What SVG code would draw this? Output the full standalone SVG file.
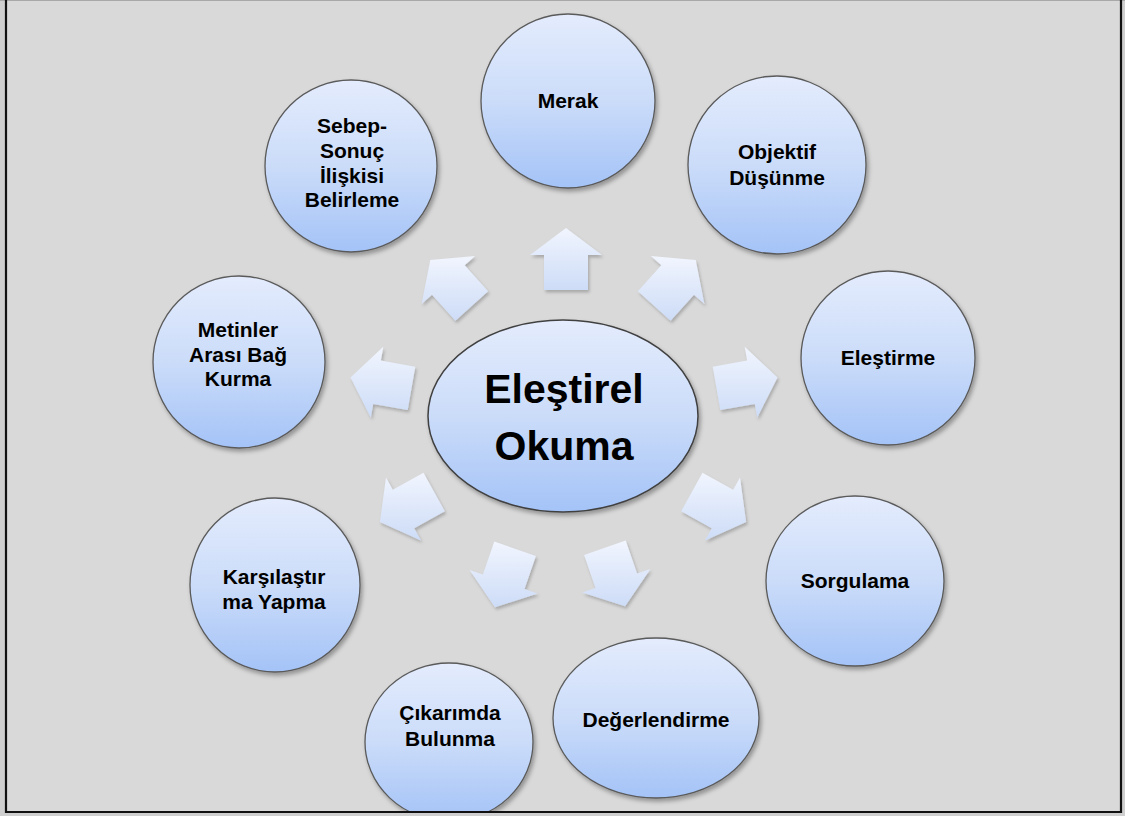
<svg xmlns="http://www.w3.org/2000/svg" width="1125" height="816" viewBox="0 0 1125 816">
  <defs>
    <linearGradient id="nodeFill" x1="0" y1="0" x2="0" y2="1">
      <stop offset="0" stop-color="#e4ecfd"/>
      <stop offset="0.5" stop-color="#cbdcf9"/>
      <stop offset="1" stop-color="#a4c3f7"/>
    </linearGradient>
    <linearGradient id="arrowFill" x1="0" y1="0" x2="0" y2="1">
      <stop offset="0" stop-color="#f1f5fe"/>
      <stop offset="1" stop-color="#cddcf7"/>
    </linearGradient>
    <filter id="shadow" x="-20%" y="-20%" width="140%" height="140%">
      <feDropShadow dx="2" dy="3" stdDeviation="2" flood-color="#000" flood-opacity="0.32"/>
    </filter>
    <filter id="softShadow" x="-20%" y="-20%" width="140%" height="140%">
      <feDropShadow dx="1.5" dy="2.5" stdDeviation="1.8" flood-color="#000" flood-opacity="0.22"/>
    </filter>
    <clipPath id="frameClip">
      <rect x="6" y="0" width="1115" height="812"/>
    </clipPath>
  </defs>
  <style>
    .node { fill: url(#nodeFill); stroke: #5a5a5a; stroke-width: 1.3; filter: url(#shadow); }
    .hub { fill: url(#nodeFill); stroke: #404040; stroke-width: 1.5; filter: url(#shadow); }
    .arrow { fill: url(#arrowFill); stroke: none; filter: url(#softShadow); }
    .lbl { font-family: "Liberation Sans", Arial, sans-serif; font-weight: bold; font-size: 21px; fill: #000; text-anchor: middle; }
    .hubLbl { font-family: "Liberation Sans", Arial, sans-serif; font-weight: bold; font-size: 41px; fill: #000; text-anchor: middle; }
  </style>

  <!-- page background and frame -->
  <rect x="0" y="0" width="1125" height="816" fill="#cfcfcf"/>
  <rect x="6" y="0" width="1115" height="812" fill="#d9d9d9"/>
  <line x1="0" y1="0.5" x2="1125" y2="0.5" stroke="#a8a8a8" stroke-width="1"/>

  <g clip-path="url(#frameClip)">
    <!-- block arrows radiating from the hub -->
    <g id="connectors">
      <polygon class="arrow" points="544,290 544,255 530,255 566,228 602,255 588,255 588,290"/>
      <polygon class="arrow" points="455.4,320.8 432,294.7 421.6,304.1 430.3,260 475.1,256 464.7,265.3 488.1,291.3"/>
      <polygon class="arrow" points="637.9,291.3 661.3,265.3 650.9,256 695.7,260 704.4,304.1 694,294.7 670.6,320.8"/>
      <polygon class="arrow" points="712.7,366.7 747.1,360.6 744.7,346.8 777.5,377.6 757.2,417.8 754.8,404 720.3,410.1"/>
      <polygon class="arrow" points="415.3,366.7 380.9,360.6 383.3,346.8 350.5,377.6 370.8,417.8 373.2,404 407.7,410.1"/>
      <polygon class="arrow" points="444.8,511.2 414.2,528.2 421,540.4 379.9,522 386,477.4 392.8,489.7 423.5,472.7"/>
      <polygon class="arrow" points="681.2,511.2 711.8,528.2 705,540.4 746.1,522 740,477.4 733.2,489.7 702.5,472.7"/>
      <polygon class="arrow" points="535.9,555.9 524.5,589 537.8,593.5 494.9,607.3 469.6,570 482.9,574.6 494.3,541.5"/>
      <polygon class="arrow" points="625.7,540.5 637.1,573.6 650.4,569 625.1,606.3 582.2,592.5 595.5,588 584.1,554.9"/>
    </g>

    <g id="hub">
      <ellipse class="hub" cx="563" cy="416" rx="135" ry="96"/>
      <text class="hubLbl" x="564" y="403">Eleştirel</text>
      <text class="hubLbl" x="564" y="460">Okuma</text>
    </g>

    <g id="merak">
      <circle class="node" cx="568" cy="101" r="87"/>
      <text class="lbl" x="568" y="108">Merak</text>
    </g>

    <g id="objektif">
      <circle class="node" cx="777" cy="165" r="89"/>
      <text class="lbl" x="777" y="159">Objektif</text>
      <text class="lbl" x="777" y="185">Düşünme</text>
    </g>

    <g id="elestirme">
      <circle class="node" cx="888" cy="358" r="87"/>
      <text class="lbl" x="888" y="365">Eleştirme</text>
    </g>

    <g id="sorgulama">
      <ellipse class="node" cx="855" cy="581" rx="89" ry="85"/>
      <text class="lbl" x="855" y="588">Sorgulama</text>
    </g>

    <g id="degerlendirme">
      <ellipse class="node" cx="656" cy="718" rx="103" ry="80"/>
      <text class="lbl" x="656" y="727">Değerlendirme</text>
    </g>

    <g id="cikarimda">
      <ellipse class="node" cx="449" cy="742" rx="84" ry="79"/>
      <text class="lbl" x="450" y="720">Çıkarımda</text>
      <text class="lbl" x="450" y="746">Bulunma</text>
    </g>

    <g id="karsilastirma">
      <ellipse class="node" cx="275" cy="585" rx="85" ry="87"/>
      <text class="lbl" x="274" y="584">Karşılaştır</text>
      <text class="lbl" x="274" y="609">ma Yapma</text>
    </g>

    <g id="metinler">
      <circle class="node" cx="239" cy="362" r="86"/>
      <text class="lbl" x="238" y="337">Metinler</text>
      <text class="lbl" x="238" y="362">Arası Bağ</text>
      <text class="lbl" x="238" y="386">Kurma</text>
    </g>

    <g id="sebep">
      <circle class="node" cx="351" cy="166" r="86"/>
      <text class="lbl" x="352" y="133">Sebep-</text>
      <text class="lbl" x="352" y="158">Sonuç</text>
      <text class="lbl" x="352" y="183">İlişkisi</text>
      <text class="lbl" x="352" y="207">Belirleme</text>
    </g>
  </g>

  <!-- frame edges -->
  <polyline points="6,0 6,812 1121,812 1121,0" fill="none" stroke="#111" stroke-width="2.2"/>
</svg>
